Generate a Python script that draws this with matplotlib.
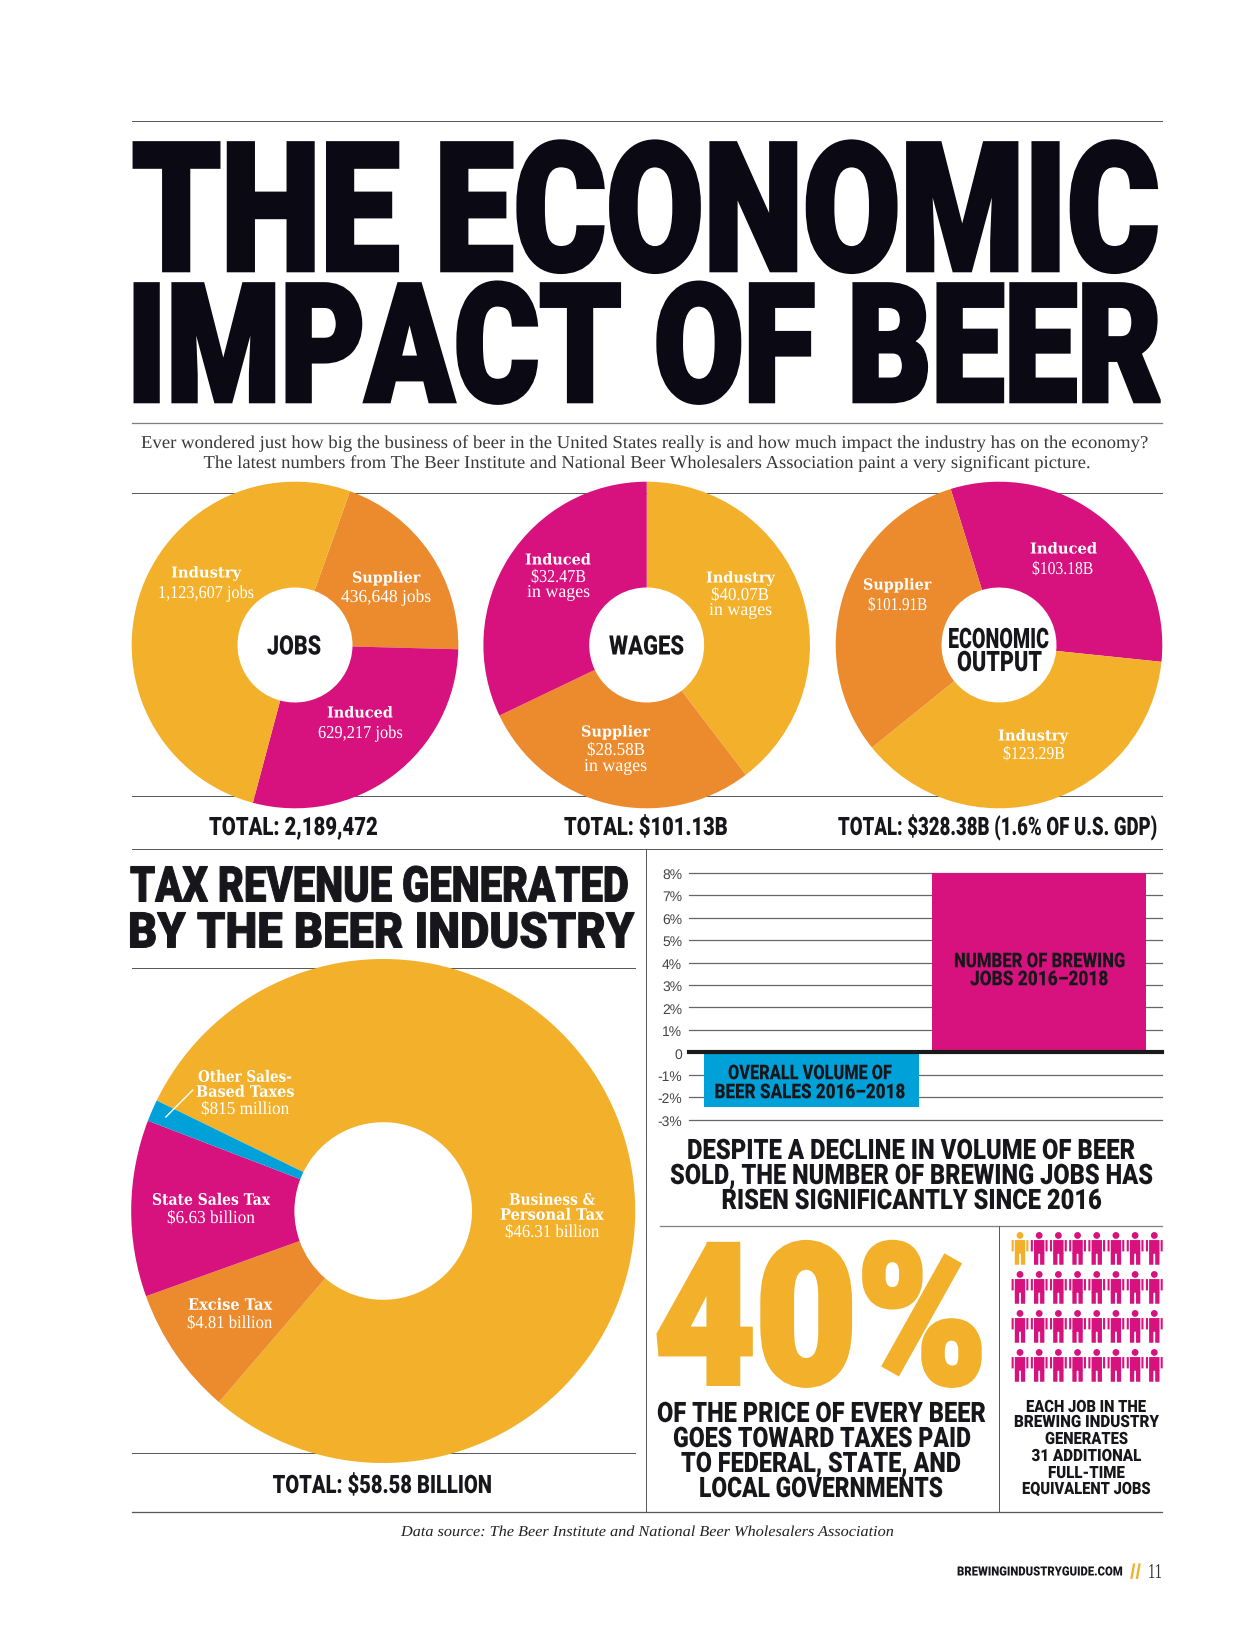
import numpy as np
import matplotlib
matplotlib.use("Agg")
from matplotlib import pyplot as plt
from matplotlib import patheffects
from matplotlib.lines import Line2D
from matplotlib.path import Path
from matplotlib.transforms import Affine2D

plt.rcParams["text.hinting"] = "none"

# data
jobs_names = ["Supplier", "Induced", "Industry"]
jobs_values = [436648, 629217, 1123607]
wages_names = ["Industry", "Supplier", "Induced"]
wages_values = [40.07, 28.58, 32.47]
output_names = ["Induced", "Industry", "Supplier"]
output_values = [103.18, 123.29, 101.91]
tax_names = ["Business & Personal Tax", "Excise Tax", "State Sales Tax", "Other Sales-Based Taxes"]
tax_values = [46.31, 4.81, 6.63, 0.815]
change_names = ["Overall volume of beer sales", "Number of brewing jobs"]
change_values = [-2.42, 8.0]
tick_values = [8, 7, 6, 5, 4, 3, 2, 1, 0, -1, -2, -3]
tick_labels = ["8%", "7%", "6%", "5%", "4%", "3%", "2%", "1%", "0", "-1%", "-2%", "-3%"]
job_counts = [1, 31]

YELLOW = "#F2B02B"
ORANGE = "#EB8B2E"
PINK = "#D7117D"
BLUE = "#00A0D8"
INK = "#17161b"
RULE = "#5a5a5a"
HEAVY = ["Roboto", "Liberation Sans"]

W, H = 1237, 1631
fig = plt.figure(figsize=(W / 100, H / 100), dpi=100, facecolor="white")
renderer = fig.canvas.get_renderer()


class Tall(patheffects.AbstractPathEffect):
    # stretches a text up from its baseline, fonts here have no condensed cut
    def __init__(self, sy, y0, bold=0):
        super().__init__()
        self.sy, self.y0, self.bold = sy, y0, bold

    def draw_path(self, renderer, gc, tpath, affine, rgbFace=None):
        aff = affine + Affine2D().translate(0, -self.y0).scale(1, self.sy).translate(0, self.y0)
        gc0 = renderer.new_gc()
        gc0.copy_properties(gc)
        if self.bold:
            gc0.set_linewidth(self.bold * 0.72)
            gc0.set_foreground(rgbFace)
            gc0.set_joinstyle("miter")
        renderer.draw_path(gc0, tpath, aff, rgbFace)
        gc0.restore()


def put(s, x0, x1, yc, cap, family=HEAVY, weight=900, color=INK, bold=0, style="normal", ratio=0.71):
    em = (cap - bold) / ratio
    base = yc + cap / 2 - bold / 2
    t = fig.text(x0 / W, 1 - base / H, s, family=family, weight=weight, style=style,
                 color=color, fontsize=em * 0.72, ha="left", va="baseline")
    size = em * 0.72
    # width does not grow quite linearly with size, so fit twice
    for i in range(3):
        size *= (x1 - x0) / t.get_window_extent(renderer).width
        t.set_fontsize(size)
    t.set_path_effects([Tall(em * 0.72 / size, H - base, bold)])
    return t


def rule(x0, y0, x1, y1, lw=1.0, color=RULE):
    fig.add_artist(Line2D([x0 / W, x1 / W], [1 - y0 / H, 1 - y1 / H], lw=lw * 0.72, color=color, zorder=-1))


def ax_px(x0, y0, x1, y1):
    ax = fig.add_axes([x0 / W, 1 - y1 / H, (x1 - x0) / W, (y1 - y0) / H])
    ax.patch.set_alpha(0)
    return ax


def donut(cx, cy, r, hole, values, colors, start):
    ax = ax_px(cx - r, cy - r, cx + r, cy + r)
    ax.pie(values, colors=colors, startangle=start, counterclock=False, radius=1,
           wedgeprops=dict(width=1 - hole / r, linewidth=0))
    ax.set_xlim(-1, 1)
    ax.set_ylim(-1, 1)
    ax.axis("off")


# rules
rule(131.5, 121.7, 1162, 121.7)
rule(131.5, 424, 1162, 424, 1.3, "#808080")
rule(131.5, 494.3, 1162, 494.3)
rule(131.5, 797.3, 1162, 797.3)
rule(131.5, 850, 1162, 850)
rule(131.5, 969.3, 635, 969.3)
rule(131.5, 1453.8, 635, 1453.8)
rule(131.5, 1512.7, 1162, 1512.7, 1.3)
rule(646.3, 850, 646.3, 1512.7)
rule(659.6, 1226.5, 1162, 1226.5, 1.3, "#808080")
rule(999, 1226.5, 999, 1512.7)

# title
put("THE ECONOMIC", 132, 1160, 207.8, 131, color="#0b0914", bold=4)
put("IMPACT OF BEER", 127, 1162, 343.8, 121, color="#0b0914", bold=4)
SUB = dict(family="Liberation Serif", weight=400, color="#3a3a3a", ratio=0.66)
put("Ever wondered just how big the business of beer in the United States really is and how much impact the industry has on the economy?",
    141, 1150, 443, 12, **SUB)
put("The latest numbers from The Beer Institute and National Beer Wholesalers Association paint a very significant picture.",
    203.5, 1089, 463, 12, **SUB)

# three small donuts
donut(295, 646, 163.3, 57.5, jobs_values, [ORANGE, PINK, YELLOW], 70.3)
donut(646.7, 646, 163.3, 57.5, wages_values, [YELLOW, ORANGE, PINK], 90)
donut(999, 646, 163.3, 57.5, output_values, [PINK, YELLOW, ORANGE], 107.2)

HEAD = dict(family="DejaVu Serif", weight="bold", color="white", ratio=0.73)
VAL = dict(family="Liberation Serif", weight=400, color="white", ratio=0.66)
put("Industry", 171, 241, 573, 11, **HEAD)
put("1,123,607 jobs", 158, 254, 593, 12, **VAL)
put("Supplier", 352, 420, 578, 11, **HEAD)
put("436,648 jobs", 341, 431, 597, 12, **VAL)
put("Induced", 327, 393, 713, 11, **HEAD)
put("629,217 jobs", 318, 403, 733, 12, **VAL)

put("Induced", 525, 591, 560, 11, **HEAD)
put("$32.47B", 531, 586, 577, 12, **VAL)
put("in wages", 527, 590, 592, 12, **VAL)
put("Industry", 706, 775, 578, 11, **HEAD)
put("$40.07B", 711, 769, 595, 12, **VAL)
put("in wages", 709, 772, 610, 12, **VAL)
put("Supplier", 581, 650, 732, 11, **HEAD)
put("$28.58B", 587, 645, 750, 12, **VAL)
put("in wages", 584, 647, 766, 12, **VAL)

put("Induced", 1030, 1097, 549, 11, **HEAD)
put("$103.18B", 1032, 1093, 569, 12, **VAL)
put("Supplier", 863, 931, 585, 11, **HEAD)
put("$101.91B", 868, 927, 605, 12, **VAL)
put("Industry", 998, 1068, 736, 11, **HEAD)
put("$123.29B", 1003, 1065, 754, 12, **VAL)

put("JOBS", 267, 321, 646, 19)
put("WAGES", 609, 684, 646, 19)
put("ECONOMIC", 948, 1049, 639, 20)
put("OUTPUT", 957, 1042, 662, 20)

put("TOTAL: 2,189,472", 209, 378, 827, 18)
put("TOTAL: $101.13B", 564, 728, 827, 18)
put("TOTAL: $328.38B (1.6% OF U.S. GDP)", 838, 1157, 827, 18)

# tax section
put("TAX REVENUE GENERATED", 130, 629, 885, 36, bold=1)
put("BY THE BEER INDUSTRY", 128, 634, 931, 36, bold=1)
donut(383.2, 1212, 252, 88.8, tax_values, [YELLOW, ORANGE, PINK, BLUE], 154)
put("Other Sales-", 198, 292, 1077, 11.5, **HEAD)
put("Based Taxes", 196, 294, 1092, 11.5, **HEAD)
put("$815 million", 201, 289, 1109, 12, **VAL)
put("State Sales Tax", 152, 270, 1200, 11.5, **HEAD)
put("$6.63 billion", 167, 255, 1218, 12, **VAL)
put("Excise Tax", 188, 272, 1305, 11.5, **HEAD)
put("$4.81 billion", 187, 272, 1323, 12, **VAL)
put("Business &", 509, 595, 1200, 11.5, **HEAD)
put("Personal Tax", 500, 604, 1215, 11.5, **HEAD)
put("$46.31 billion", 505, 599, 1232, 12, **VAL)
fig.add_artist(Line2D([165.8 / W, 192.6 / W], [1 - 1118 / H, 1 - 1091.2 / H], color="white", lw=1.0, zorder=5))
put("TOTAL: $58.58 BILLION", 272.6, 491.6, 1485, 18)

# bar chart
ax = ax_px(689, 873.7, 1162, 1120.7)
ax.bar([0, 1], change_values, width=0.943, color=[BLUE, PINK], zorder=2)
ax.set_xlim(-0.537, 1.54)
ax.set_ylim(-3, 8)
ax.set_yticks(tick_values)
ax.set_yticklabels(tick_labels, family="Liberation Sans", fontsize=10, color="#444444")
ax.set_xticks([])
ax.tick_params(axis="y", length=0, pad=5)
ax.grid(axis="y", color="#666666", lw=0.9, zorder=1, clip_on=False)
ax.axhline(0, color="#1a1a1a", lw=3, zorder=3, clip_on=False)
for s in ax.spines.values():
    s.set_visible(False)
put("NUMBER OF BREWING", 954, 1125, 961, 14.5)
put("JOBS 2016–2018", 970, 1108, 979, 14.5)
put("OVERALL VOLUME OF", 728, 891.5, 1073, 14.5)
put("BEER SALES 2016–2018", 714.5, 905, 1092, 14.5)
put("DESPITE A DECLINE IN VOLUME OF BEER", 687, 1135, 1150, 20)
put("SOLD, THE NUMBER OF BREWING JOBS HAS", 670, 1152, 1175, 20)
put("RISEN SIGNIFICANTLY SINCE 2016", 721.5, 1101, 1200, 20)

# 40 percent
put("40%", 654, 987, 1315, 144, color=YELLOW, bold=5)
put("OF THE PRICE OF EVERY BEER", 657, 985, 1413, 20)
put("GOES TOWARD TAXES PAID", 673, 971, 1438, 20)
put("TO FEDERAL, STATE, AND", 681, 961, 1463, 20)
put("LOCAL GOVERNMENTS", 699, 943, 1488, 20)

# people pictogram, one figure per job
body = [Path.circle((0, 12.95), 3.4)]
for x0, x1, y0, y1 in [(-5.2, 5.2, -5.3, 8.35), (-5.2, -0.9, -16.35, -5), (0.9, 5.2, -16.35, -5),
                       (-8.4, -6.3, -3, 8.35), (6.3, 8.4, -3, 8.35)]:
    body.append(Path([(x0, y0), (x1, y0), (x1, y1), (x0, y1), (x0, y0)], closed=True))
person = Path.make_compound_path(*body)
people_colors = [YELLOW] * job_counts[0] + [PINK] * job_counts[1]
rows, cols = np.divmod(np.arange(sum(job_counts)), 8)
ax2 = ax_px(1020, 1249.4, 1154.3, 1366.4)
ax2.scatter(cols, rows, marker=person, s=(32.7 * 0.72) ** 2, c=people_colors, linewidths=0, clip_on=False)
ax2.set_xlim(0, 7)
ax2.set_ylim(3, 0)
ax2.axis("off")

put("EACH JOB IN THE", 1026, 1146, 1407, 12)
put("BREWING INDUSTRY", 1014, 1159, 1422, 12)
put("GENERATES", 1045, 1128, 1439, 12)
put("31 ADDITIONAL", 1031.5, 1141, 1456, 12)
put("FULL-TIME", 1048, 1124.5, 1473, 12)
put("EQUIVALENT JOBS", 1022, 1151, 1489, 12)

# footer
put("Data source: The Beer Institute and National Beer Wholesalers Association", 401, 894, 1532, 10,
    family="Liberation Serif", weight=400, style="italic", color="#222222", ratio=0.66)
put("BREWINGINDUSTRYGUIDE.COM", 957, 1122.5, 1572, 9)
put("//", 1130, 1141, 1572, 15, family="Liberation Sans", weight="bold", color=YELLOW, ratio=0.72)
put("11", 1148, 1162, 1572, 14, family="Liberation Serif", weight=400, color="#333333", ratio=0.66)

fig.savefig("out.png", dpi=100)
